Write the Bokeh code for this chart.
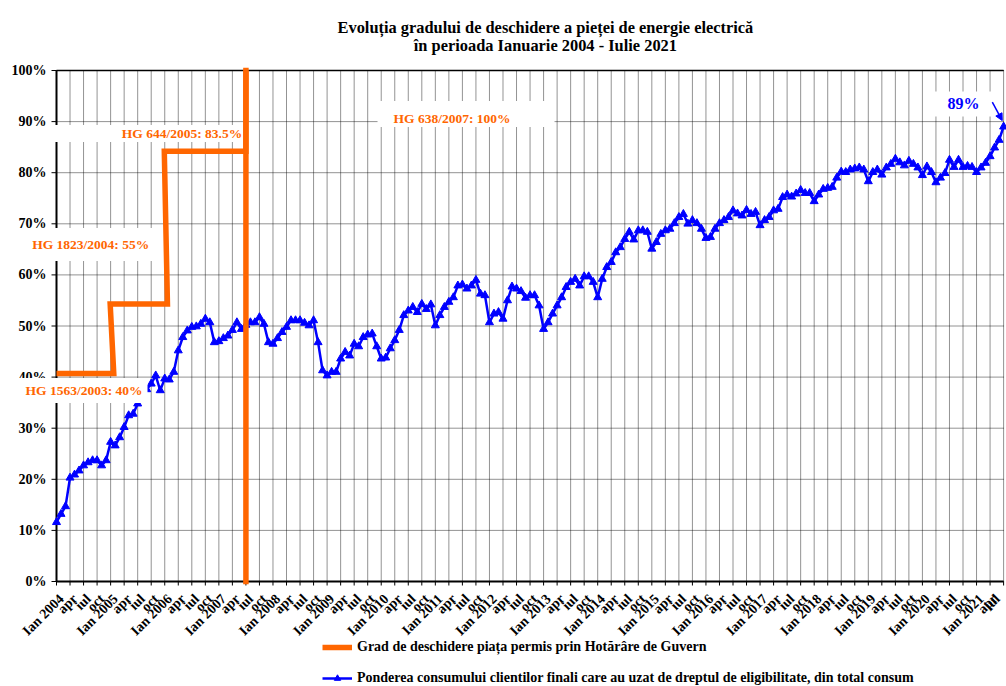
import math
from bokeh.plotting import figure
from bokeh.models import Label, Legend, LegendItem, Arrow, NormalHead
from bokeh.core.properties import value
from bokeh.embed import file_html
from bokeh.resources import INLINE

# ---------------- data ----------------
TITLE_LINES = ["Evoluția gradului de deschidere a pieței de energie electrică",
               "în perioada Ianuarie 2004 - Iulie 2021"]
start_year = 2004

# monthly share (%) of final consumers that used eligibility, Jan 2004 .. Jul 2021
eligible_pct = [
    11.6, 13.2, 14.7, 20.3, 20.9, 21.7, 22.7, 23.3, 23.7, 23.7, 22.7, 23.7,   # 2004
    27.3, 26.6, 28.2, 30.2, 32.5, 32.8, 34.8, 36.0, 37.6, 38.7, 40.3, 37.4,   # 2005
    39.7, 39.5, 41.0, 45.2, 47.8, 49.1, 49.8, 49.9, 50.4, 51.4, 50.7, 46.8,   # 2006
    47.0, 47.6, 48.1, 49.2, 50.7, 49.4, 50.2, 50.7, 50.7, 51.7, 50.4, 46.8,   # 2007
    46.5, 47.6, 48.8, 49.8, 51.1, 51.1, 51.1, 50.6, 50.1, 51.1, 46.8, 41.3,   # 2008
    40.3, 41.0, 41.0, 43.6, 44.9, 44.2, 46.5, 46.0, 47.8, 48.3, 48.5, 46.0,   # 2009
    43.6, 43.8, 45.6, 47.2, 49.2, 52.1, 53.0, 53.7, 52.7, 54.3, 53.3, 54.2,   # 2010
    50.1, 52.1, 53.7, 54.7, 55.6, 57.9, 58.1, 57.3, 57.9, 59.0, 56.3, 56.0,   # 2011
    50.7, 52.4, 52.7, 51.4, 55.0, 57.7, 57.3, 56.8, 55.5, 56.0, 56.0, 54.0,   # 2012
    49.4, 50.7, 52.4, 54.0, 55.6, 57.6, 58.6, 59.2, 57.9, 59.7, 59.7, 58.6,   # 2013
    55.6, 59.2, 61.5, 62.5, 64.4, 65.4, 67.0, 68.4, 66.9, 68.7, 68.7, 68.4,   # 2014
    65.1, 66.4, 68.0, 68.7, 69.0, 70.1, 71.3, 71.9, 70.0, 70.7, 70.1, 69.0,   # 2015
    67.2, 67.4, 69.0, 70.1, 70.7, 71.3, 72.6, 72.0, 71.6, 72.7, 71.9, 72.3,   # 2016
    69.7, 70.7, 71.3, 72.6, 72.9, 75.2, 75.7, 75.3, 75.9, 76.6, 76.0, 76.0,   # 2017
    74.4, 75.7, 76.8, 77.0, 77.2, 79.0, 80.2, 80.1, 80.6, 80.8, 81.0, 80.6,   # 2018
    78.3, 80.1, 80.6, 79.6, 81.0, 81.7, 82.7, 82.0, 81.4, 82.3, 81.7, 81.0,   # 2019
    79.5, 81.2, 80.1, 78.1, 79.0, 79.9, 82.5, 81.1, 82.5, 81.1, 81.3, 81.1,   # 2020
    80.1, 81.0, 81.9, 83.2, 84.9, 86.4, 89.0,                                 # 2021
]
months = list(range(len(eligible_pct)))

# market opening allowed by Government Decisions (month index since Jan 2004, %)
gov_month = [0, 12.7, 11.9, 24.6, 23.9, 42, 42]
gov_pct = [40.7, 40.7, 54.3, 54.3, 84.2, 84.2, 100]
gov_full_month = [42, 42]
gov_full_pct = [0, 100]

gov_labels = ["HG 1563/2003: 40%", "HG 1823/2004:  55%", "HG 644/2005:  83.5%", "HG 638/2007: 100%"]
last_label = "89%"

quarter_names = ["Ian", "apr", "iul", "oct"]
tick_months = list(range(0, len(eligible_pct), 3))
tick_labels = [(f"{quarter_names[0]} {start_year + m // 12}" if m % 12 == 0
                else quarter_names[(m % 12) // 3]) for m in tick_months]
pct_ticks = list(range(0, 101, 10))
pct_labels = [f"{v}%" for v in pct_ticks]

legend_labels = ["Grad de deschidere piața permis prin Hotărâre de Guvern",
                 "Ponderea consumului clientilor finali care au uzat de dreptul de eligibilitate, din total consum"]

# ---------------- style ----------------
SERIF = "Liberation Serif"
ORANGE = "#FF6600"
BLUE = "#0000FF"
first_m, last_m = months[0], months[-1]
n_t, n_p = len(tick_months), len(pct_ticks)

# the frame spans the whole canvas; 0..210 months and 0..100 % sit where the reference has them
p = figure(width=1006, height=686, x_range=(-12.417, 210.643), y_range=(-20.548, 113.699),
           x_axis_type=None, y_axis_type=None, output_backend="svg",
           toolbar_location=None, title=None, min_border=0)
p.outline_line_color = None

# title
p.text(x=[108.4, 108.4], y=[108.47, 104.89], text=TITLE_LINES, text_align="center",
       text_baseline="alphabetic", text_font=value(SERIF), text_font_style="bold",
       text_font_size="16.4px", text_color="black")

# grid
p.segment(x0=tick_months, y0=[0] * n_t, x1=tick_months, y1=[100] * n_t,
          line_color="black", line_alpha=0.85, line_dash="1 1", line_width=1, level="underlay")
p.segment(x0=[first_m] * n_p, y0=pct_ticks, x1=[last_m] * n_p, y1=pct_ticks,
          line_color="black", line_alpha=0.85, line_dash="1 1", line_width=1, level="underlay")
p.segment(x0=[first_m], y0=[100], x1=[last_m], y1=[100], line_color="black", line_width=1.5)

# y axis
p.segment(x0=[first_m], y0=[0], x1=[first_m], y1=[100], line_color="black", line_width=2)
p.ray(x=[first_m] * n_p, y=pct_ticks, length=5, angle=math.pi, length_units="screen",
      line_color="black", line_width=1)
p.text(x=[first_m] * n_p, y=pct_ticks, text=pct_labels, x_offset=-10,
       text_font=value(SERIF), text_font_style="bold", text_font_size="14px",
       text_align="right", text_baseline="middle", text_color="black")

# x axis
p.segment(x0=[first_m], y0=[0], x1=[last_m], y1=[0], line_color="black", line_width=2)
p.ray(x=tick_months, y=[0] * n_t, length=4, angle=-math.pi / 2, length_units="screen",
      line_color="black", line_width=1)
label_dx = [5] * (n_t - 1) + [-6]          # keep the last label inside the page
p.text(x=tick_months, y=[0] * n_t, text=tick_labels, angle=math.pi / 4,
       x_offset=label_dx, y_offset=15, text_font=value(SERIF), text_font_style="bold",
       text_font_size="14px", text_align="right", text_baseline="middle", text_color="black")

# series
blue_line = p.line(months, eligible_pct, line_color=BLUE, line_width=2.5)
blue_pts = p.scatter(months, eligible_pct, marker="triangle", size=8,
                     fill_color=BLUE, line_color=BLUE)

gov_r = p.line(gov_month, gov_pct, line_color=ORANGE, line_width=5.5,
               line_join="miter", level="overlay")
p.line(gov_full_month, gov_full_pct, line_color=ORANGE, line_width=5.5,
       line_cap="square", level="overlay")

# labels with white boxes (x, y give the box edge / centre)
def box_label(x, y, text, color, size, align, pad):
    p.add_layout(Label(x=x, y=y, text=text, text_color=color, text_font=SERIF,
                       text_font_style="bold", text_font_size=size, text_align=align,
                       text_baseline="middle", background_fill_color="white",
                       padding=pad))

box_label(20.18, 37.4, gov_labels[0], ORANGE, "13.5px", "right",
          dict(left=22, right=5, top=5, bottom=5))
box_label(21.73, 65.95, gov_labels[1], ORANGE, "13.5px", "right",
          dict(left=32, right=2, top=9, bottom=9))
box_label(42.36, 87.67, gov_labels[2], ORANGE, "13.5px", "right",
          dict(left=68, right=2, top=1, bottom=1))
box_label(71.18, 91.49, gov_labels[3], ORANGE, "13.5px", "left",
          dict(left=16, right=44, top=10, bottom=1))
box_label(193.79, 93.44, last_label, BLUE, "16px", "left",
          dict(left=17, right=15, top=3, bottom=5))

p.add_layout(Arrow(x_start=207.5, y_start=93.8, x_end=209.7, y_end=90.2,
                   line_color=BLUE, line_width=1.5, level="overlay",
                   end=NormalHead(size=7, fill_color=BLUE, line_color=BLUE)))

legend = Legend(items=[LegendItem(label=legend_labels[0], renderers=[gov_r]),
                       LegendItem(label=legend_labels[1], renderers=[blue_line, blue_pts])],
                orientation="vertical", location=(322, 0),
                label_text_font=SERIF, label_text_font_style="bold",
                label_text_font_size="14px", label_text_color="black",
                glyph_width=30, glyph_height=16, label_standoff=5, label_height=16,
                spacing=15, padding=0, margin=0,
                border_line_color=None, background_fill_alpha=0)
p.add_layout(legend)

open("out.html", "w").write(file_html(p, INLINE))
